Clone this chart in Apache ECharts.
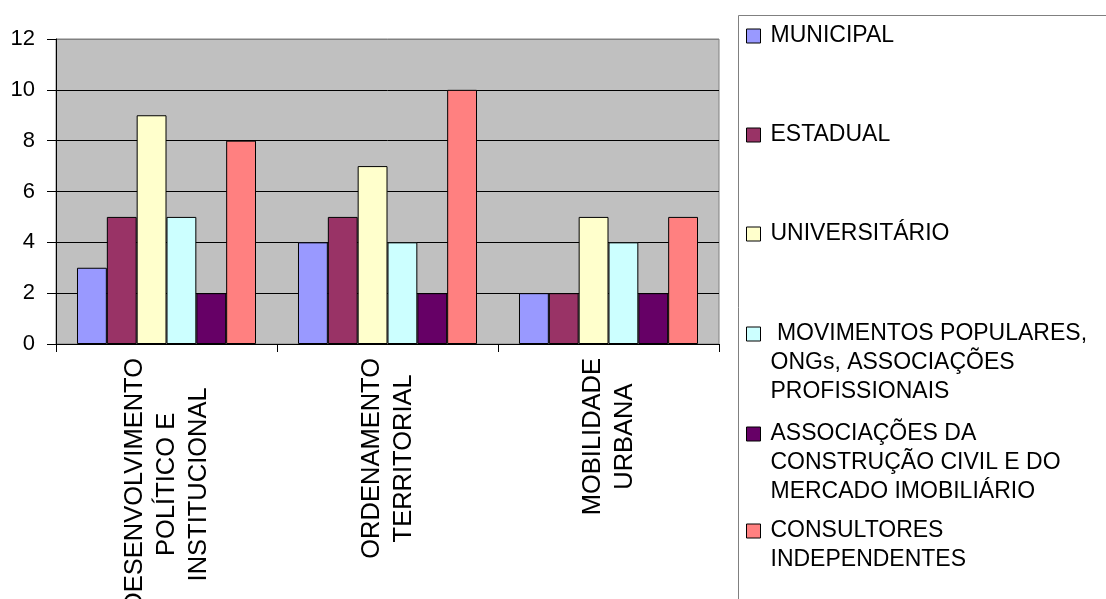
<!DOCTYPE html>
<html>
<head>
<meta charset="utf-8">
<script src="https://cdn.jsdelivr.net/npm/echarts@6/dist/echarts.min.js"></script>
<style>
  html, body { margin: 0; padding: 0; background: #ffffff; }
  #chart { width: 1106px; height: 599px; }
</style>
</head>
<body>
<div id="chart"></div>
<script>
// Themes (categories), one label line per entry
const categories = [
  ['DESENVOLVIMENTO', 'POLÍTICO E', 'INSTITUCIONAL'],
  ['ORDENAMENTO', 'TERRITORIAL'],
  ['MOBILIDADE', 'URBANA']
];

// Segment names, as shown in the legend (line breaks included)
const seriesNames = [
  'MUNICIPAL',
  'ESTADUAL',
  'UNIVERSITÁRIO',
  ' MOVIMENTOS POPULARES,\nONGs, ASSOCIAÇÕES\nPROFISSIONAIS',
  'ASSOCIAÇÕES DA\nCONSTRUÇÃO CIVIL E DO\nMERCADO IMOBILIÁRIO',
  'CONSULTORES\nINDEPENDENTES'
];

// Counts per theme
const municipal     = [3, 4, 2];
const estadual      = [5, 5, 2];
const universitario = [9, 7, 5];
const movimentos    = [5, 4, 4];
const construcao    = [2, 2, 2];
const consultores   = [8, 10, 5];

const yTicks = { min: 0, max: 12, interval: 2 };

const seriesValues = [municipal, estadual, universitario, movimentos, construcao, consultores];
const colors = ['#9999FF', '#993366', '#FFFFCC', '#CCFFFF', '#660066', '#FF8080'];

const FONT = 'Liberation Sans, Arial, sans-serif';
const LEGEND_LINE = 29;
// vertical centre of each legend marker
const legendCenters = [36, 135, 234, 334, 434, 531];

const chart = echarts.init(document.getElementById('chart'), null, { renderer: 'canvas' });

// One legend block per series so every marker sits beside the first line of its text.
// Leading blank lines push the text down so its first line is centred on the marker.
const legends = seriesNames.map((name, i) => {
  const n = name.split('\n').length;
  return {
    data: [name],
    orient: 'vertical',
    left: 746,
    top: legendCenters[i] - (2 * n - 1) * LEGEND_LINE / 2,
    padding: 0,
    icon: 'rect',
    itemWidth: 14,
    itemHeight: 14,
    selectedMode: false,
    formatter: label => '\n'.repeat(n - 1) + label,
    itemStyle: { borderColor: '#000000', borderWidth: 1 },
    textStyle: {
      fontFamily: FONT,
      fontSize: 23,
      color: '#000000',
      lineHeight: LEGEND_LINE,
      padding: [0, 0, 0, 5]
    }
  };
});

chart.setOption({
  animation: false,
  backgroundColor: '#ffffff',
  textStyle: { fontFamily: FONT },
  grid: {
    left: 56,
    top: 39,
    width: 663,
    height: 305,
    show: true,
    backgroundColor: '#C0C0C0',
    borderColor: '#808080',
    borderWidth: 1,
    containLabel: false,
    outerBoundsMode: 'none'
  },
  legend: legends,
  graphic: [{
    type: 'rect',
    shape: { x: 738.5, y: 15.5, width: 420, height: 640 },
    style: { fill: 'none', stroke: '#808080', lineWidth: 1 },
    silent: true
  }],
  xAxis: {
    type: 'category',
    data: categories.map(c => c.join('\n')),
    boundaryGap: true,
    axisLine: { show: true, lineStyle: { color: '#000000', width: 1 } },
    axisTick: { show: true, alignWithLabel: false, length: 8, lineStyle: { color: '#000000' } },
    splitLine: { show: false },
    axisLabel: {
      rotate: 90,
      margin: 14,
      interval: 0,
      hideOverlap: false,
      formatter: v => v.split('\n').map(l => '{c|' + l + '}').join('\n'),
      rich: {
        c: { align: 'center', fontFamily: FONT, fontSize: 25.5, lineHeight: 32, color: '#000000' }
      }
    }
  },
  yAxis: {
    type: 'value',
    min: yTicks.min,
    max: yTicks.max,
    interval: yTicks.interval,
    axisLine: { show: true, lineStyle: { color: '#000000', width: 1 } },
    axisTick: { show: true, length: 9, lineStyle: { color: '#000000' } },
    splitLine: {
      show: true,
      lineStyle: {
        color: ['#000000', '#000000', '#000000', '#000000', '#000000', '#000000', '#808080'],
        width: 1
      }
    },
    axisLabel: { margin: 21, fontFamily: FONT, fontSize: 22, color: '#000000' }
  },
  series: seriesNames.map((name, i) => ({
    name: name,
    type: 'bar',
    data: seriesValues[i],
    barGap: '0%',
    barCategoryGap: '19%',
    itemStyle: { color: colors[i], borderColor: '#000000', borderWidth: 1 },
    emphasis: { disabled: true }
  }))
});
</script>
</body>
</html>
